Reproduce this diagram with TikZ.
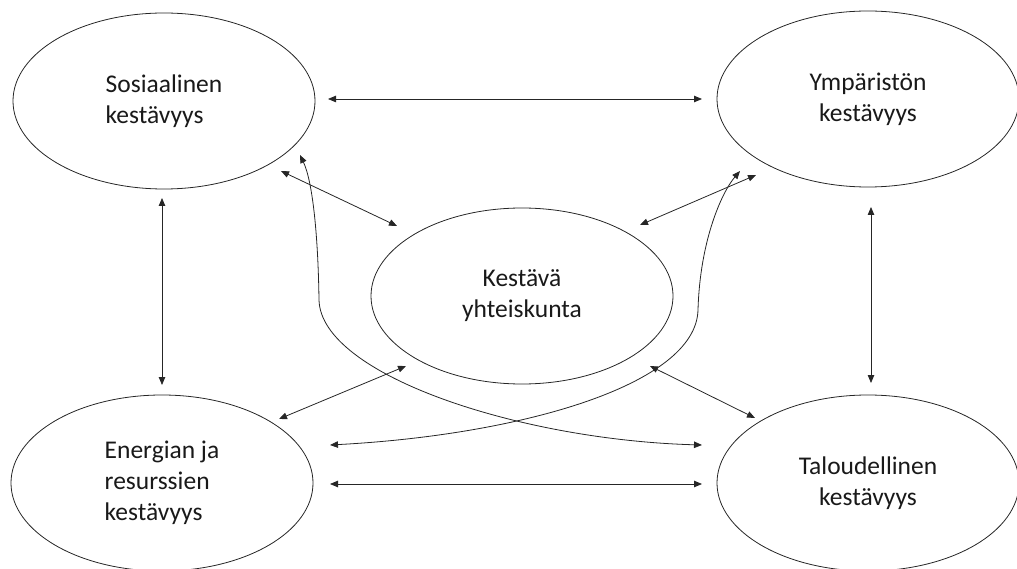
\documentclass[tikz,border=0pt]{standalone}
\usepackage{fontspec}
\setmainfont{Carlito}
\usetikzlibrary{shapes.geometric,arrows.meta}
\begin{document}
\begin{tikzpicture}[x=1pt,y=-1pt,
  oval/.style={ellipse,draw=black!85,line width=0.8pt,minimum width=302pt,minimum height=176pt,inner sep=0pt,
    font=\fontsize{25.5}{31}\selectfont,text=black!90},
  link/.style={line width=0.8pt,draw=black!85,{Triangle[length=8pt,width=6.5pt]}-{Triangle[length=8pt,width=6.5pt]}}]
\useasboundingbox (0,0) rectangle (1017,569);
\node[oval,align=left]   (sos) at (164,101) {Sosiaalinen\\kestävyys};
\node[oval,align=center] (ymp) at (868,99)  {Ympäristön\\kestävyys};
\node[oval,align=center] (kes) at (522,296) {Kestävä\\yhteiskunta};
\node[oval,align=left]   (ene) at (162,483) {Energian ja\\resurssien\\kestävyys};
\node[oval,align=center] (tal) at (868,483) {Taloudellinen\\kestävyys};
% connector end points
\coordinate (sosE) at (328,99);   \coordinate (ympW) at (702,99);
\coordinate (sosS) at (162,198);  \coordinate (eneN) at (162,385);
\coordinate (ympS) at (871,207);  \coordinate (talN) at (871,383);
\coordinate (eneE) at (330,484);  \coordinate (talW) at (702,484);
\coordinate (sosSE) at (281,171); \coordinate (kesNW) at (397,226);
\coordinate (ympSW) at (756,175); \coordinate (kesNE) at (640,225);
\coordinate (eneNE) at (279,419); \coordinate (kesSW) at (406,366);
\coordinate (talNW) at (755,418); \coordinate (kesSE) at (650,366);
\coordinate (sosC) at (300,155);  \coordinate (talC) at (702,445);
\coordinate (ympC) at (740,171);  \coordinate (eneC) at (330,445);
% straight connectors
\draw[link] (sosE) -- (ympW);
\draw[link] (sosS) -- (eneN);
\draw[link] (ympS) -- (talN);
\draw[link] (eneE) -- (talW);
\draw[link] (sosSE) -- (kesNW);
\draw[link] (kesNE) -- (ympSW);
\draw[link] (eneNE) -- (kesSW);
\draw[link] (kesSE) -- (talNW);
% curved connectors
\draw[link] (sosC) .. controls (312,180) and (318,230) .. (319,300)
  .. controls (321,375) and (520,440) .. (talC);
\draw[link] (ympC) .. controls (722,192) and (700,240) .. (698,310)
  .. controls (696,385) and (520,435) .. (eneC);
\end{tikzpicture}
\end{document}
